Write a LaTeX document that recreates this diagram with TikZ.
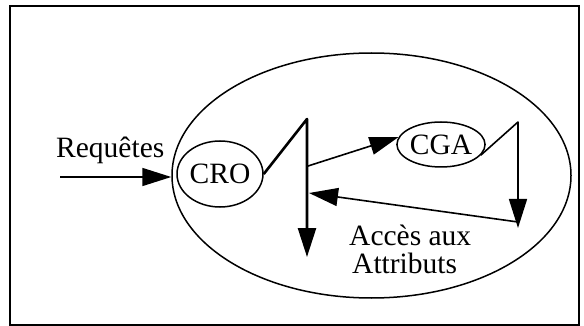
\documentclass[tikz,border=0pt]{standalone}
\usepackage{fontspec}
\setmainfont{Liberation Serif}
\usetikzlibrary{shapes.geometric,arrows.meta}
\begin{document}
\begin{tikzpicture}[x=1pt,y=-1pt,
  every node/.style={font=\fontsize{29.5}{29.5}\selectfont},
  oval/.style={draw, ellipse, line width=1.5pt, inner sep=0pt},
  label/.style={anchor=base west, inner sep=0pt},
  flow/.style={line width=1.6pt, line join=round, -{Triangle[length=29pt,width=18pt]}},
  heavy/.style={flow, line width=2.6pt}]
\useasboundingbox (0,0) rectangle (584,326);
% outer frame
\draw[line width=2pt] (10,6) rectangle (579,325);
% system boundary and its two components
\node[oval, minimum width=399pt, minimum height=245pt] (sys) at (371.5,175.5) {};
\node[oval, minimum width=86pt, minimum height=66pt] (cro) at (220,174) {CRO};
\node[oval, minimum width=84pt, minimum height=45pt] (cga) at (441,144.5) {CGA};
% texts
\node[label] (req) at (56,158) {Requêtes};
\node[label] (acc) at (349,245) {Accès aux};
\node[label] (attr) at (352,273) {Attributs};
% incoming requests
\coordinate (in) at (60,177);
\draw[flow] (in) -- (sys.west |- in);
% CRO output branch
\coordinate (croTop) at (307,119);
\coordinate (croBot) at (307,257);
\draw[heavy] (cro.east) -- (croTop) -- (croBot);
% call to CGA
\coordinate (tap) at (308,166);
\draw[flow] (tap) -- (cga.170);
% CGA output branch
\coordinate (cgaTop) at (518,122);
\coordinate (cgaBot) at (518,228);
\draw[flow] (cga.-15) -- (cgaTop) -- (cgaBot);
% attribute access back to CRO
\coordinate (back) at (518,222);
\coordinate (hit) at (309,193);
\draw[flow] (back) -- (hit);
\end{tikzpicture}
\end{document}
